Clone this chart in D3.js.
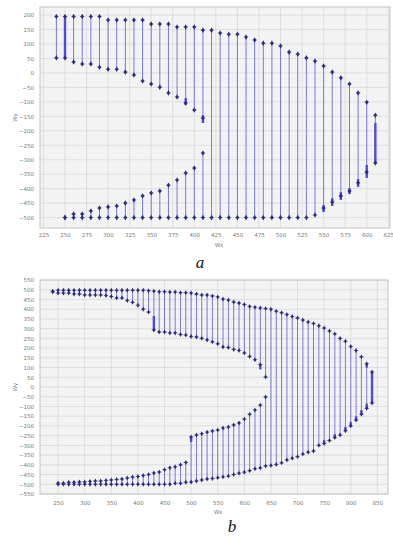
<!DOCTYPE html>
<html>
<head>
<meta charset="utf-8">
<script src="https://cdn.jsdelivr.net/npm/d3@7"></script>
<style>
  html, body { margin: 0; padding: 0; background: #fff; }
  svg { display: block; }
  .tick text { fill: #777; font-family: "DejaVu Sans", sans-serif; font-size: 5.5px; }
</style>
</head>
<body>
<div id="chart"></div>
<script>
// ---- panel a data ----
const xA = [240, 250, 260, 270, 280, 290, 300, 310, 320, 330, 340, 350, 360, 370, 380, 390, 400, 410, 420,
  430, 440, 450, 460, 470, 480, 490, 500, 510, 520, 530, 540, 550, 560, 570, 580, 590, 600, 610];
const topA = [195, 195, 195, 195, 195, 195, 183, 183, 183, 183, 183, 169, 169, 169, 159, 159, 159, 148, 148,
  138, 134, 134, 124, 114, 103, 103, 93, 72, 65, 52, 41, 24, 3, -17, -38, -69, -101, -146];
const upperInnerA = [52, 52, 38, 31, 31, 20, 13, 13, 3, -7, -28, -38, -49, -69, -83, -104, -128, -156, null,
  null, null, null, null, null, null, null, null, null, null, null, null, null, null, null, null, null, null, null];
const lowerInnerA = [null, -500, -488, -488, -477, -467, -463, -460, -450, -439, -425, -415, -408, -388, -370, -346, -329, -277, null,
  null, null, null, null, null, null, null, null, null, null, null, null, null, null, null, null, null, null, null];
const bottomA = [null, -500, -500, -500, -500, -500, -500, -500, -500, -500, -500, -500, -500, -500, -500, -500, -500, -500, -500,
  -500, -500, -500, -500, -500, -500, -500, -500, -500, -500, -500, -491, -467, -446, -425, -408, -380, -343, -311];
// thick stretches where the points crowd together: [x, from, to]
const denseA = [[250, 195, 52], [390, -87, -111], [410, -146, -173], [550, -457, -481], [560, -433, -460],
  [570, -412, -439], [580, -398, -419], [590, -367, -394], [600, -318, -363], [610, -173, -311]];
const xTicksA = [225, 250, 275, 300, 325, 350, 375, 400, 425, 450, 475, 500, 525, 550, 575, 600, 625];
const yTicksA = [200, 150, 100, 50, 0, -50, -100, -150, -200, -250, -300, -350, -400, -450, -500];

// ---- panel b data ----
const xB = [240, 250, 260, 270, 280, 290, 300, 310, 320, 330, 340, 350, 360, 370, 380, 390, 400, 410, 420, 430,
  440, 450, 460, 470, 480, 490, 500, 510, 520, 530, 540, 550, 560, 570, 580, 590, 600, 610, 620, 630,
  640, 650, 660, 670, 680, 690, 700, 710, 720, 730, 740, 750, 760, 770, 780, 790, 800, 810, 820, 830, 840];
const topB = [493, 497, 497, 497, 497, 497, 497, 497, 497, 497, 497, 497, 497, 497, 497, 497, 497, 497, 495, 493,
  490, 490, 488, 488, 485, 485, 483, 478, 473, 473, 468, 463, 452, 447, 437, 432, 424, 414, 410, 406,
  403, 400, 390, 382, 373, 362, 355, 344, 334, 326, 315, 303, 288, 273, 250, 235, 208, 188, 155, 120, 77];
const upperInnerB = [488, 483, 483, 483, 478, 478, 473, 473, 473, 473, 470, 465, 458, 458, 445, 435, 420, 400, 385, 293,
  283, 283, 278, 278, 270, 267, 260, 257, 250, 242, 232, 222, 206, 203, 193, 188, 175, 157, 140, 115,
  51, null, null, null, null, null, null, null, null, null, null, null, null, null, null, null, null, null, null, null, null];
const lowerInnerB = [null, -494, -494, -490, -490, -488, -488, -485, -483, -483, -480, -478, -475, -473, -468, -463, -460, -455, -450, -442,
  -437, -425, -415, -410, -400, -388, -257, -247, -240, -232, -226, -221, -211, -206, -195, -185, -165, -140, -118, -93,
  -51, null, null, null, null, null, null, null, null, null, null, null, null, null, null, null, null, null, null, null, null];
const bottomB = [null, -500, -500, -500, -500, -500, -500, -500, -500, -500, -500, -500, -500, -500, -500, -500, -500, -500, -500, -500,
  -500, -500, -500, -495, -495, -490, -488, -483, -478, -473, -470, -466, -462, -458, -450, -443, -438, -430, -420, -416,
  -406, -403, -398, -390, -375, -366, -358, -345, -335, -329, -300, -290, -275, -260, -247, -225, -200, -170, -140, -110, -82];
const denseB = [[430, 365, 293], [500, -257, -283], [630, 115, 90], [750, -290, -272], [770, -260, -242],
  [790, -225, -205], [800, -200, -180], [810, -170, -150], [820, -140, -118], [830, -110, -85], [830, 120, 100], [840, 77, -82]];
const xTicksB = [250, 300, 350, 400, 450, 500, 550, 600, 650, 700, 750, 800, 850];
const yTicksB = [550, 500, 450, 400, 350, 300, 250, 200, 150, 100, 50, 0, -50, -100, -150, -200, -250, -300, -350, -400, -450, -500, -550];

const W = 393, H = 538;
const svg = d3.select('#chart').append('svg').attr('width', W).attr('height', H);

function drawPanel(p) {
  const x = d3.scaleLinear().domain(p.xDomain).range([p.left, p.right]);
  const y = d3.scaleLinear().domain(p.yDomain).range([p.bottom, p.top]);
  const g = svg.append('g');

  g.append('rect')
    .attr('x', p.left).attr('y', p.top)
    .attr('width', p.right - p.left).attr('height', p.bottom - p.top)
    .attr('fill', '#f3f3f3');

  // grid
  g.append('g').selectAll('line').data(p.xTicks).enter().append('line')
    .attr('x1', d => x(d)).attr('x2', d => x(d))
    .attr('y1', p.top).attr('y2', p.bottom)
    .attr('stroke', '#d9d9d9').attr('stroke-width', 0.8);
  g.append('g').selectAll('line').data(p.yTicks).enter().append('line')
    .attr('x1', p.left).attr('x2', p.right)
    .attr('y1', d => y(d)).attr('y2', d => y(d))
    .attr('stroke', '#d9d9d9').attr('stroke-width', 0.8);

  g.append('rect')
    .attr('x', p.left).attr('y', p.top)
    .attr('width', p.right - p.left).attr('height', p.bottom - p.top)
    .attr('fill', 'none').attr('stroke', '#c4c4c4').attr('stroke-width', 1);

  // axes (labels only)
  const ax = g.append('g')
    .attr('transform', `translate(0,${p.bottom})`)
    .call(d3.axisBottom(x).tickValues(p.xTicks).tickSize(0).tickPadding(p.xPad));
  ax.select('.domain').remove();
  const ay = g.append('g')
    .attr('transform', `translate(${p.left},0)`)
    .call(d3.axisLeft(y).tickValues(p.yTicks).tickSize(0).tickPadding(6));
  ay.select('.domain').remove();

  g.append('text')
    .attr('x', (p.left + p.right) / 2 + 4).attr('y', p.xTitleY)
    .attr('text-anchor', 'middle')
    .attr('font-family', 'DejaVu Sans, sans-serif').attr('font-size', 5.5).attr('fill', '#777')
    .text(p.xTitle);
  g.append('text')
    .attr('transform', `translate(17,${(p.top + p.bottom) / 2}) rotate(-90)`)
    .attr('text-anchor', 'middle')
    .attr('font-family', 'DejaVu Sans, sans-serif').attr('font-size', 5.5).attr('fill', '#777')
    .text(p.yTitle);

  // build segments per column
  const segs = [];
  p.xs.forEach((xv, i) => {
    const t = p.top_[i], ui = p.ui[i], li = p.li[i], b = p.bot[i];
    if (ui !== null) {
      segs.push({ x: xv, y1: t, y2: ui });
      if (li !== null && b !== null) segs.push({ x: xv, y1: li, y2: b });
    } else {
      segs.push({ x: xv, y1: t, y2: b });
    }
  });

  g.append('g').selectAll('line').data(segs).enter().append('line')
    .attr('x1', d => x(d.x)).attr('x2', d => x(d.x))
    .attr('y1', d => y(d.y1)).attr('y2', d => y(d.y2))
    .attr('stroke', '#6b6bd6').attr('stroke-width', 0.9);

  g.append('g').selectAll('line').data(p.dense).enter().append('line')
    .attr('x1', d => x(d[0])).attr('x2', d => x(d[0]))
    .attr('y1', d => y(d[1])).attr('y2', d => y(d[2]))
    .attr('stroke', '#4c4ce0').attr('stroke-width', 2.4);

  const pts = [];
  segs.forEach(s => { pts.push([s.x, s.y1]); pts.push([s.x, s.y2]); });
  const sym = d3.symbol().type(d3.symbolDiamond).size(p.markSize);
  g.append('g').selectAll('path').data(pts).enter().append('path')
    .attr('d', sym)
    .attr('transform', d => `translate(${x(d[0])},${y(d[1])})`)
    .attr('fill', '#2c2c7e');
  g.append('g').selectAll('line').data(pts).enter().append('line')
    .attr('x1', d => x(d[0]) - 2.2).attr('x2', d => x(d[0]) + 2.2)
    .attr('y1', d => y(d[1])).attr('y2', d => y(d[1]))
    .attr('stroke', '#2c2c7e').attr('stroke-width', 0.7);

  svg.append('text')
    .attr('x', p.tagX).attr('y', p.tagY)
    .attr('text-anchor', 'middle')
    .attr('font-family', 'Liberation Serif, serif').attr('font-style', 'italic')
    .attr('font-size', 17).attr('fill', '#111')
    .text(p.tag);
}

drawPanel({
  xs: xA, top_: topA, ui: upperInnerA, li: lowerInnerA, bot: bottomA, dense: denseA,
  xTicks: xTicksA, yTicks: yTicksA,
  xDomain: [221, 627], yDomain: [-536, 228],
  left: 40, right: 390, top: 7, bottom: 228,
  xPad: 5, xTitleY: 247, xTitle: 'Wx', yTitle: 'Wy',
  markSize: 9, tag: 'a', tagX: 200, tagY: 268
});

drawPanel({
  xs: xB, top_: topB, ui: upperInnerB, li: lowerInnerB, bot: bottomB, dense: denseB,
  xTicks: xTicksB, yTicks: yTicksB,
  xDomain: [216, 870], yDomain: [-550, 550],
  left: 40, right: 388, top: 280, bottom: 494,
  xPad: 7, xTitleY: 514, xTitle: 'Wx', yTitle: 'Wy',
  markSize: 7, tag: 'b', tagX: 232, tagY: 532
});
</script>
</body>
</html>
